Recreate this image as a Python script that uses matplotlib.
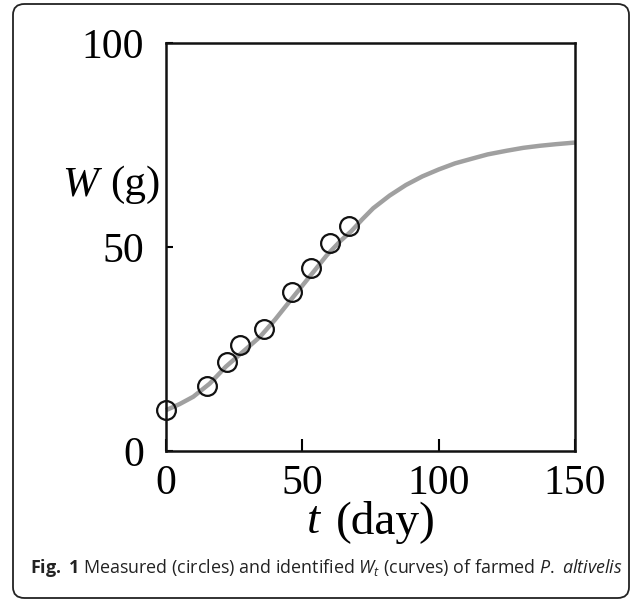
import matplotlib.pyplot as plt
from matplotlib.patches import FancyBboxPatch

plt.rcParams['mathtext.fontset'] = 'custom'
plt.rcParams['mathtext.rm'] = 'Open Sans'
plt.rcParams['mathtext.it'] = 'Open Sans:italic'
plt.rcParams['mathtext.bf'] = 'Open Sans:bold'

# measured points (circles)
t_meas = [0, 14.9, 22.2, 27.1, 36.1, 46.3, 53.2, 60.1, 67.1]
w_meas = [10.0, 15.9, 21.9, 26.0, 29.8, 38.9, 44.9, 51.1, 55.1]

# identified curve
t_curve = [0, 5, 10, 16, 22, 28, 34.5, 40, 46.7, 53, 59, 64, 68, 72, 76, 82, 88,
           94, 100, 106, 112.5, 118, 125, 131, 137, 143, 150]
w_curve = [10.0, 11.5, 13.3, 16.5, 20.7, 24.2, 28.0, 32.2, 37.8, 43.0, 48.0, 51.5,
           53.9, 56.8, 59.5, 62.6, 65.2, 67.3, 69.0, 70.5, 71.7, 72.7, 73.6, 74.3,
           74.8, 75.2, 75.6]

x_ticks = [0, 50, 100, 150]
y_ticks = [0, 50, 100]

W, H = 634, 602
fig = plt.figure(figsize=(W / 100, H / 100), dpi=100)

# rounded frame round the whole figure
box = FancyBboxPatch((13 / W, 4 / H), 616 / W, 594 / H,
                     boxstyle='round,pad=0,rounding_size=0.018',
                     transform=fig.transFigure, fill=False,
                     edgecolor='#222222', linewidth=1.3)
fig.patches.append(box)

ax = fig.add_axes([166 / W, 1 - 451 / H, 409 / W, 408 / H])
ax.plot(t_curve, w_curve, color='#a0a0a0', linewidth=3.2, zorder=2,
        solid_capstyle='butt', clip_on=False)
ax.plot(t_meas, w_meas, 'o', markersize=13.5, markerfacecolor='none',
        markeredgecolor='#111111', markeredgewidth=1.6, zorder=3, clip_on=False)

ax.set_xlim(0, 150)
ax.set_ylim(0, 100)
ax.set_xticks(x_ticks)
ax.set_yticks(y_ticks)
serif = 'Liberation Serif'
ax.set_xticklabels([str(v) for v in x_ticks], fontfamily=serif, fontsize=30)
ax.set_yticklabels([str(v) for v in y_ticks], fontfamily=serif, fontsize=30)
ax.tick_params(axis='x', direction='in', length=9, width=1.5, pad=10)
ax.tick_params(axis='y', direction='in', length=5, width=1.5, pad=16)
for s in ax.spines.values():
    s.set_linewidth(1.8)
    s.set_color('#111111')

# axis titles
fig.text(160 / W, 1 - 185 / H, '(g)', fontfamily=serif, fontsize=31,
         ha='right', va='center')
fig.text(98 / W, 1 - 185 / H, 'W', fontfamily=serif, fontsize=31,
         style='italic', ha='right', va='center')
fig.text(336 / W, 1 - 522 / H, '(day)', fontfamily=serif, fontsize=34,
         ha='left', va='center')
fig.text(320 / W, 1 - 522 / H, 't', fontfamily=serif, fontsize=34,
         style='italic', ha='right', va='center')

# caption
fig.text(30 / W, 1 - 568 / H,
         r'$\bf{Fig.}$ $\bf{1}$ Measured (circles) and identified $W_t$ (curves) of farmed $P.$ $altivelis$',
         fontfamily='Open Sans', fontsize=12.9, ha='left', va='center',
         color='#222222')

fig.savefig('out.png', dpi=100)
